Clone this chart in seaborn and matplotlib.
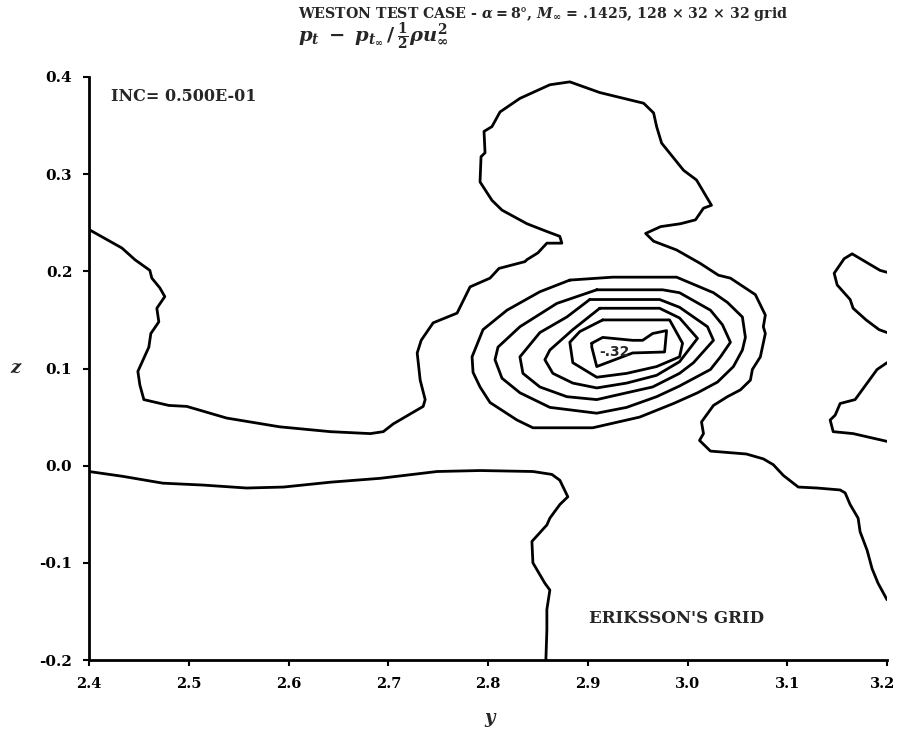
import matplotlib
matplotlib.use('Agg')
import matplotlib.pyplot as plt
import matplotlib.transforms as mtransforms
import seaborn as sns

# contour traces (y, z)
outer_y = [2.400, 2.433, 2.446, 2.461, 2.463, 2.471, 2.476, 2.468, 2.470, 2.462,
           2.460, 2.449, 2.451, 2.455, 2.480, 2.498, 2.538, 2.591, 2.642, 2.682,
           2.695, 2.705, 2.735, 2.737, 2.732, 2.729, 2.733, 2.745, 2.769, 2.782,
           2.802, 2.811, 2.837, 2.839, 2.850, 2.859, 2.874, 2.872, 2.859, 2.839,
           2.814, 2.804, 2.792, 2.793, 2.797, 2.796, 2.804, 2.812, 2.832, 2.862,
           2.882, 2.912, 2.956, 2.966, 2.969, 2.974, 2.996, 3.009, 3.024, 3.016,
           3.008, 2.993, 2.973, 2.958, 2.966, 2.989, 3.013, 3.031, 3.043, 3.068,
           3.078, 3.076, 3.078, 3.073, 3.065, 3.063, 3.053, 3.040, 3.026, 3.014,
           3.016, 3.012, 3.023, 3.059, 3.076, 3.086, 3.096, 3.111, 3.130, 3.153,
           3.158, 3.163, 3.171, 3.173, 3.180, 3.185, 3.191, 3.200]
outer_z = [0.243, 0.224, 0.212, 0.201, 0.193, 0.183, 0.174, 0.162, 0.148, 0.136,
           0.122, 0.097, 0.083, 0.068, 0.062, 0.061, 0.049, 0.040, 0.035, 0.033,
           0.035, 0.043, 0.061, 0.068, 0.088, 0.116, 0.129, 0.147, 0.157, 0.184,
           0.193, 0.203, 0.210, 0.212, 0.219, 0.229, 0.229, 0.236, 0.241, 0.249,
           0.263, 0.273, 0.292, 0.318, 0.322, 0.344, 0.349, 0.364, 0.378, 0.392,
           0.395, 0.384, 0.373, 0.363, 0.349, 0.332, 0.304, 0.294, 0.268, 0.265,
           0.253, 0.249, 0.246, 0.239, 0.231, 0.222, 0.208, 0.196, 0.193, 0.176,
           0.155, 0.143, 0.136, 0.112, 0.099, 0.088, 0.078, 0.071, 0.062, 0.045,
           0.033, 0.026, 0.015, 0.012, 0.007, 0.001, -0.010, -0.022, -0.023, -0.025,
           -0.028, -0.040, -0.054, -0.068, -0.087, -0.106, -0.121, -0.138]

lower_y = [2.400, 2.434, 2.474, 2.515, 2.558, 2.595, 2.642, 2.692, 2.749, 2.792,
           2.845, 2.864, 2.872, 2.880, 2.872, 2.862, 2.859, 2.844, 2.845, 2.857,
           2.862, 2.859, 2.859, 2.858]
lower_z = [-0.006, -0.011, -0.018, -0.020, -0.023, -0.022, -0.017, -0.013, -0.006, -0.005,
           -0.006, -0.009, -0.015, -0.032, -0.040, -0.054, -0.061, -0.078, -0.100, -0.121,
           -0.128, -0.148, -0.169, -0.200]

edge1_y = [3.200, 3.193, 3.165, 3.157, 3.147, 3.150, 3.163, 3.166, 3.179, 3.192, 3.200]
edge1_z = [0.199, 0.201, 0.218, 0.213, 0.198, 0.186, 0.171, 0.162, 0.150, 0.140, 0.137]
edge2_y = [3.200, 3.190, 3.168, 3.153, 3.148, 3.143, 3.146, 3.166, 3.200]
edge2_z = [0.106, 0.099, 0.068, 0.064, 0.052, 0.047, 0.035, 0.033, 0.025]

# nested loss core, outermost first
core1_y = [2.882, 2.925, 2.989, 3.026, 3.040, 3.055, 3.058, 3.055, 3.046, 3.030, 3.010, 2.986,
           2.952, 2.905, 2.845, 2.829, 2.802, 2.792, 2.785, 2.784, 2.795, 2.819, 2.852, 2.882]
core1_z = [0.191, 0.194, 0.194, 0.178, 0.168, 0.153, 0.132, 0.119, 0.102, 0.086, 0.075, 0.064,
           0.050, 0.039, 0.039, 0.047, 0.065, 0.081, 0.096, 0.112, 0.140, 0.160, 0.179, 0.191]
core2_y = [2.909, 2.975, 2.992, 3.023, 3.035, 3.043, 3.033, 3.023, 2.992, 2.969,
           2.939, 2.909, 2.862, 2.832, 2.814, 2.807, 2.810, 2.832, 2.869, 2.909]
core2_z = [0.181, 0.181, 0.178, 0.160, 0.145, 0.127, 0.112, 0.099, 0.082, 0.071,
           0.060, 0.054, 0.060, 0.075, 0.090, 0.109, 0.122, 0.143, 0.167, 0.181]
core3_y = [2.902, 2.972, 2.992, 3.020, 3.026, 3.006, 2.992, 2.965, 2.939,
           2.909, 2.879, 2.852, 2.835, 2.832, 2.852, 2.879, 2.902]
core3_z = [0.171, 0.171, 0.163, 0.143, 0.129, 0.106, 0.095, 0.081, 0.075,
           0.068, 0.071, 0.081, 0.095, 0.112, 0.137, 0.153, 0.171]
core4_y = [2.912, 2.972, 2.992, 3.010, 2.992, 2.969, 2.939, 2.909, 2.885,
           2.865, 2.857, 2.862, 2.885, 2.912]
core4_z = [0.162, 0.162, 0.152, 0.131, 0.107, 0.093, 0.085, 0.080, 0.085,
           0.095, 0.109, 0.119, 0.140, 0.162]
core5_y = [2.915, 2.982, 2.995, 2.992, 2.969, 2.939, 2.909, 2.885, 2.882, 2.892, 2.915]
core5_z = [0.150, 0.150, 0.126, 0.112, 0.102, 0.095, 0.091, 0.106, 0.127, 0.138, 0.150]
core6_y = [2.904, 2.915, 2.945, 2.955, 2.965, 2.979, 2.977, 2.945, 2.909, 2.904, 2.904]
core6_z = [0.126, 0.132, 0.129, 0.129, 0.136, 0.139, 0.117, 0.116, 0.102, 0.122, 0.126]

curves = [(outer_y, outer_z), (lower_y, lower_z), (edge1_y, edge1_z), (edge2_y, edge2_z),
          (core1_y, core1_z), (core2_y, core2_z), (core3_y, core3_z),
          (core4_y, core4_z), (core5_y, core5_z), (core6_y, core6_z)]

x_ticks = [2.4, 2.5, 2.6, 2.7, 2.8, 2.9, 3.0, 3.1, 3.2]
z_ticks = [-0.2, -0.1, 0.0, 0.1, 0.2, 0.3, 0.4]

sns.set_style('ticks')
plt.rcParams['font.family'] = ['DejaVu Serif']
# bold italic maths to match the heavy print of the header
plt.rcParams['mathtext.fontset'] = 'custom'
plt.rcParams['mathtext.it'] = 'DejaVu Serif:italic:bold'
plt.rcParams['mathtext.rm'] = 'DejaVu Serif:bold'
plt.rcParams['mathtext.bf'] = 'DejaVu Serif:bold'

fig = plt.figure(figsize=(8.98, 7.34), dpi=100)
ax = fig.add_axes([0.0991, 0.1008, 0.8887, 0.7943])

for cy, cz in curves:
    sns.lineplot(x=cy, y=cz, ax=ax, sort=False, estimator=None,
                 color='black', linewidth=2.0)

ax.set_xlim(2.4, 3.2)
ax.set_ylim(-0.2, 0.4)
ax.set_xticks(x_ticks)
ax.set_yticks(z_ticks)
ax.set_xticklabels([f'{v:.1f}' for v in x_ticks], fontweight='bold', fontsize=10.5)
ax.set_yticklabels([f'{v:.1f}' for v in z_ticks], fontweight='bold', fontsize=11)
ax.tick_params(direction='out', length=4, width=1.5, pad=8, colors='black')
# last x label sits right on the figure edge, nudge it in a little
last = ax.get_xticklabels()[-1]
last.set_transform(last.get_transform() +
                   mtransforms.ScaledTranslation(-4 / 100, 0, fig.dpi_scale_trans))
sns.despine(ax=ax)
for s in ['left', 'bottom']:
    ax.spines[s].set_linewidth(2.0)
    ax.spines[s].set_color('black')

ax.text(2.927, 0.117, '-.32', ha='center', va='center', fontsize=10,
        fontweight='bold', family='DejaVu Sans')
ax.text(0.028, 0.967, 'INC= 0.500E-01', transform=ax.transAxes, ha='left',
        va='center', fontsize=11.5, fontweight='bold')
ax.text(0.626, 0.072, "ERIKSSON'S GRID", transform=ax.transAxes, ha='left',
        va='center', fontsize=12, fontweight='bold')

fig.text(0.545, 0.022, 'y', ha='center', va='center', fontsize=13,
         fontweight='bold', style='italic')
fig.text(0.017, 0.499, 'z', ha='center', va='center', fontsize=13,
         fontweight='bold', style='italic')

fig.text(0.332, 0.981, r'WESTON TEST CASE - $\alpha = 8°$, $M_\infty$ = .1425, 128 $\times$ 32 $\times$ 32 grid',
         ha='left', va='center', fontsize=10.2, fontweight='bold')
fig.text(0.332, 0.950, r'$p_t \;-\; p_{t_\infty}\, /\, \frac{1}{2}\rho u^2_\infty$',
         ha='left', va='center', fontsize=14)

fig.savefig('out.png', dpi=100)
